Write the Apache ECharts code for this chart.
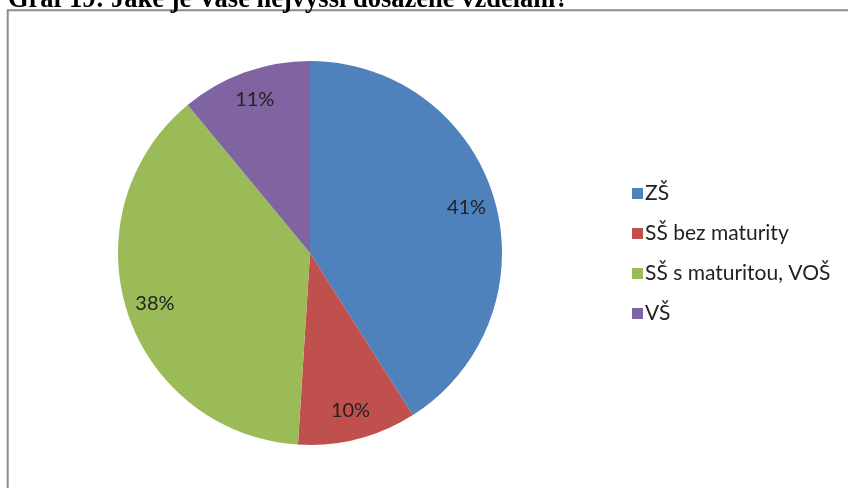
<!DOCTYPE html>
<html>
<head>
<meta charset="utf-8">
<script src="https://cdn.jsdelivr.net/npm/echarts@6/dist/echarts.min.js"></script>
<style>
  html, body { margin: 0; padding: 0; background: #fff; }
  #main { width: 848px; height: 488px; }
</style>
</head>
<body>
<div id="main"></div>
<script>
var categories = ['ZŠ', 'SŠ bez maturity', 'SŠ s maturitou, VOŠ', 'VŠ'];
var values = [41, 10, 38, 11];
var colors = ['#4F81BD', '#C0504D', '#9BBB59', '#8064A2'];
var titleText = 'Graf 19: Jaké je Vaše nejvyšší dosažené vzdělání?';

var chart = echarts.init(document.getElementById('main'));

var pieData = categories.map(function (name, i) {
  return { name: name, value: values[i], itemStyle: { color: colors[i] } };
});

var option = {
  animation: false,
  graphic: [
    {
      // ramecek grafu
      type: 'rect',
      shape: { x: 7.7, y: 10.3, width: 900, height: 500 },
      style: { fill: 'none', stroke: '#8c8c8c', lineWidth: 2 },
      z: 0
    },
    {
      type: 'text',
      left: 8,
      top: -13,
      style: {
        text: titleText,
        fill: '#000',
        font: 'bold 26.5px "Liberation Serif", "DejaVu Serif", serif'
      },
      z: 10
    }
  ],
  legend: {
    orient: 'vertical',
    left: 627,
    top: 178,
    icon: 'rect',
    itemWidth: 11,
    itemHeight: 11,
    itemGap: 19,
    selectedMode: false,
    textStyle: {
      color: '#222',
      fontSize: 21,
      fontFamily: 'Lato, "Open Sans", sans-serif',
      padding: [0, 0, 0, -3]
    },
    data: categories
  },
  series: [
    {
      type: 'pie',
      center: [310, 253],
      radius: [0, 192],
      startAngle: 90,
      clockwise: true,
      label: { show: false },
      labelLine: { show: false },
      silent: true,
      data: pieData
    },
    {
      // jen popisky procent
      type: 'pie',
      center: [310, 253],
      radius: [127, 193],
      startAngle: 90,
      clockwise: true,
      silent: true,
      itemStyle: { color: 'rgba(0,0,0,0)' },
      label: {
        show: true,
        position: 'inside',
        formatter: '{c}%',
        color: '#222',
        fontSize: 20,
        fontFamily: 'Lato, "Open Sans", sans-serif'
      },
      labelLine: { show: false },
      data: categories.map(function (name, i) {
        return { name: name, value: values[i] };
      })
    }
  ]
};

chart.setOption(option);
</script>
</body>
</html>
